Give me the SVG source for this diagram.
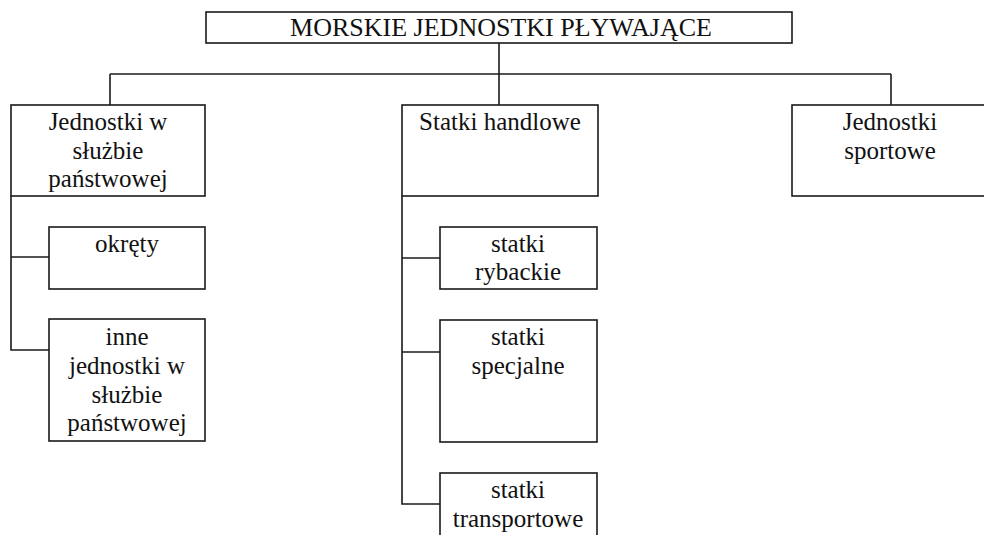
<svg xmlns="http://www.w3.org/2000/svg" width="984" height="535" viewBox="0 0 984 535">
<style>
.box{fill:#fff;stroke:#1a1a1a;stroke-width:1.6}
.ln{fill:none;stroke:#1a1a1a;stroke-width:1.6}
text{font-family:"Liberation Serif","Times New Roman",serif;font-size:25px;fill:#111;text-anchor:middle}
.title{font-size:26px}
</style>
<rect width="984" height="535" fill="#fff"/>
<g id="connectors">
<path class="ln" d="M499,43 V105"/>
<path class="ln" d="M110,74 H891"/>
<path class="ln" d="M110,74 V105"/>
<path class="ln" d="M891,74 V105"/>
<path class="ln" d="M11,196 V350 H49"/>
<path class="ln" d="M11,257 H49"/>
<path class="ln" d="M402,196 V504 H440"/>
<path class="ln" d="M402,258 H440"/>
<path class="ln" d="M402,352 H440"/>
</g>
<g id="root">
<rect class="box" x="206" y="12" width="586" height="31"/>
<text class="title" x="501" y="36">MORSKIE JEDNOSTKI PŁYWAJĄCE</text>
</g>
<g id="panstwowe">
<rect class="box" x="11" y="105" width="194" height="91"/>
<text x="108" y="130">Jednostki w</text>
<text x="108" y="159">służbie</text>
<text x="108" y="187">państwowej</text>
</g>
<g id="handlowe">
<rect class="box" x="402" y="105" width="196" height="91"/>
<text x="500" y="130">Statki handlowe</text>
</g>
<g id="sportowe">
<rect class="box" x="792" y="105" width="200" height="91"/>
<text x="890" y="130">Jednostki</text>
<text x="890" y="159">sportowe</text>
</g>
<g id="okrety">
<rect class="box" x="49" y="227" width="156" height="62"/>
<text x="127" y="252">okręty</text>
</g>
<g id="inne">
<rect class="box" x="49" y="319" width="156" height="122"/>
<text x="127" y="345">inne</text>
<text x="127" y="374">jednostki w</text>
<text x="127" y="403">służbie</text>
<text x="127" y="431">państwowej</text>
</g>
<g id="rybackie">
<rect class="box" x="440" y="227" width="157" height="62"/>
<text x="518" y="252">statki</text>
<text x="518" y="280">rybackie</text>
</g>
<g id="specjalne">
<rect class="box" x="440" y="320" width="157" height="122"/>
<text x="518" y="345">statki</text>
<text x="518" y="374">specjalne</text>
</g>
<g id="transportowe">
<rect class="box" x="440" y="473" width="157" height="70"/>
<text x="518" y="498">statki</text>
<text x="518" y="527">transportowe</text>
</g>
</svg>
